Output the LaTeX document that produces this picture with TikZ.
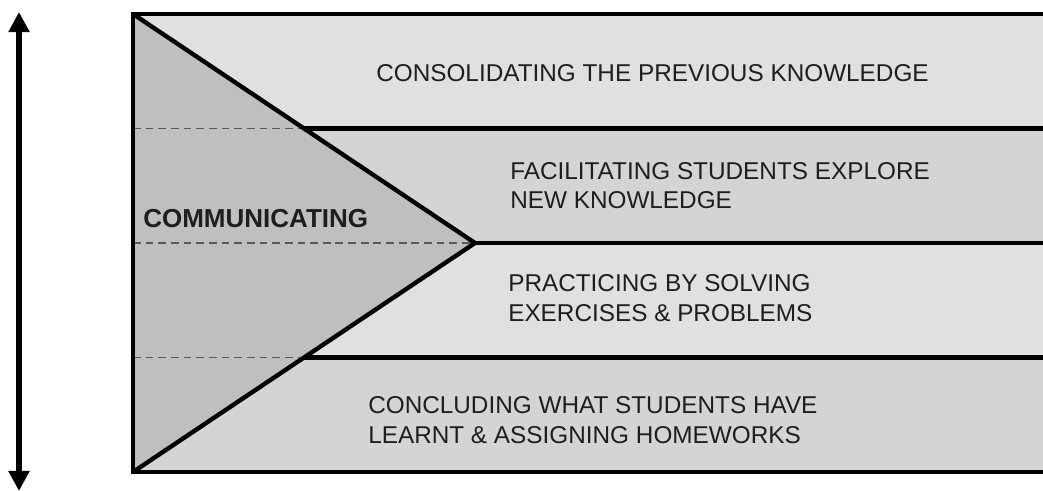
\documentclass[tikz,border=0pt]{standalone}
\usepackage{fontspec}
\setmainfont{Liberation Sans}
\usetikzlibrary{arrows.meta}
\definecolor{bandA}{HTML}{E0E0E0}
\definecolor{bandB}{HTML}{D4D4D4}
\definecolor{wedge}{HTML}{BFBFBF}
\definecolor{ink}{HTML}{1E1E1E}
\tikzset{
  thickline/.style={line width=3.1pt,line join=miter},
  guide/.style={dash pattern=on 5.5pt off 3.5pt,line width=1.1pt,draw=black!65},
  steptext/.style={anchor=base west,inner sep=0pt,align=left,text=ink,
    font=\fontsize{17.3}{21.3}\selectfont},
}

\begin{document}
\begin{tikzpicture}[x=0.025cm,y=-0.025cm]
\useasboundingbox (0,0) rectangle (1043,491);
\coordinate(TL)at(133,14);\coordinate(BL)at(133,472);\coordinate(P)at(475,243);
\coordinate(E1)at(304,128.5);\coordinate(E3)at(304,357.5);
\coordinate(R0)at(1043,14);\coordinate(R1)at(1043,128.5);
\coordinate(R2)at(1043,243);\coordinate(R3)at(1043,357.5);\coordinate(R4)at(1043,472);
\coordinate(M1)at(133,128.5);\coordinate(M2)at(133,243);\coordinate(M3)at(133,357.5);
\coordinate(up)at(19,12);\coordinate(down)at(19,491);
% bands and wedge
\fill[bandA](TL)rectangle(R1);\fill[bandB](M1)rectangle(R2);
\fill[bandA](M2)rectangle(R3);\fill[bandB](M3)rectangle(R4);
\fill[wedge](TL)--(P)--(BL)--cycle;
\draw[guide](M1)--(E1)(M2)--(P)(M3)--(E3);
\draw[thickline](R0)--(TL)--(BL)--(R4);
\draw[thickline](TL)--(P)--(BL);
\draw[thickline](E1)--(R1)(P)--(R2)(E3)--(R3);
\draw[line width=4pt,{Triangle[length=0.5cm,width=0.5cm]}-{Triangle[length=0.5cm,width=0.5cm]}](up)--(down);
% multi-line nodes sit on their last baseline
\node[steptext](consol)at(376,82){CONSOLIDATING THE PREVIOUS KNOWLEDGE};
\node[steptext](explore)at(510,209){FACILITATING STUDENTS EXPLORE\\NEW KNOWLEDGE};
\node[steptext](practice)at(508,321){PRACTICING BY SOLVING\\EXERCISES \& PROBLEMS};
\node[steptext](conclude)at(368,443){CONCLUDING WHAT STUDENTS HAVE\\LEARNT \& ASSIGNING HOMEWORKS};
\node[steptext,font=\bfseries\fontsize{18.5}{22}\selectfont](comm)at(143,228){COMMUNICATING};
\end{tikzpicture}
\end{document}
